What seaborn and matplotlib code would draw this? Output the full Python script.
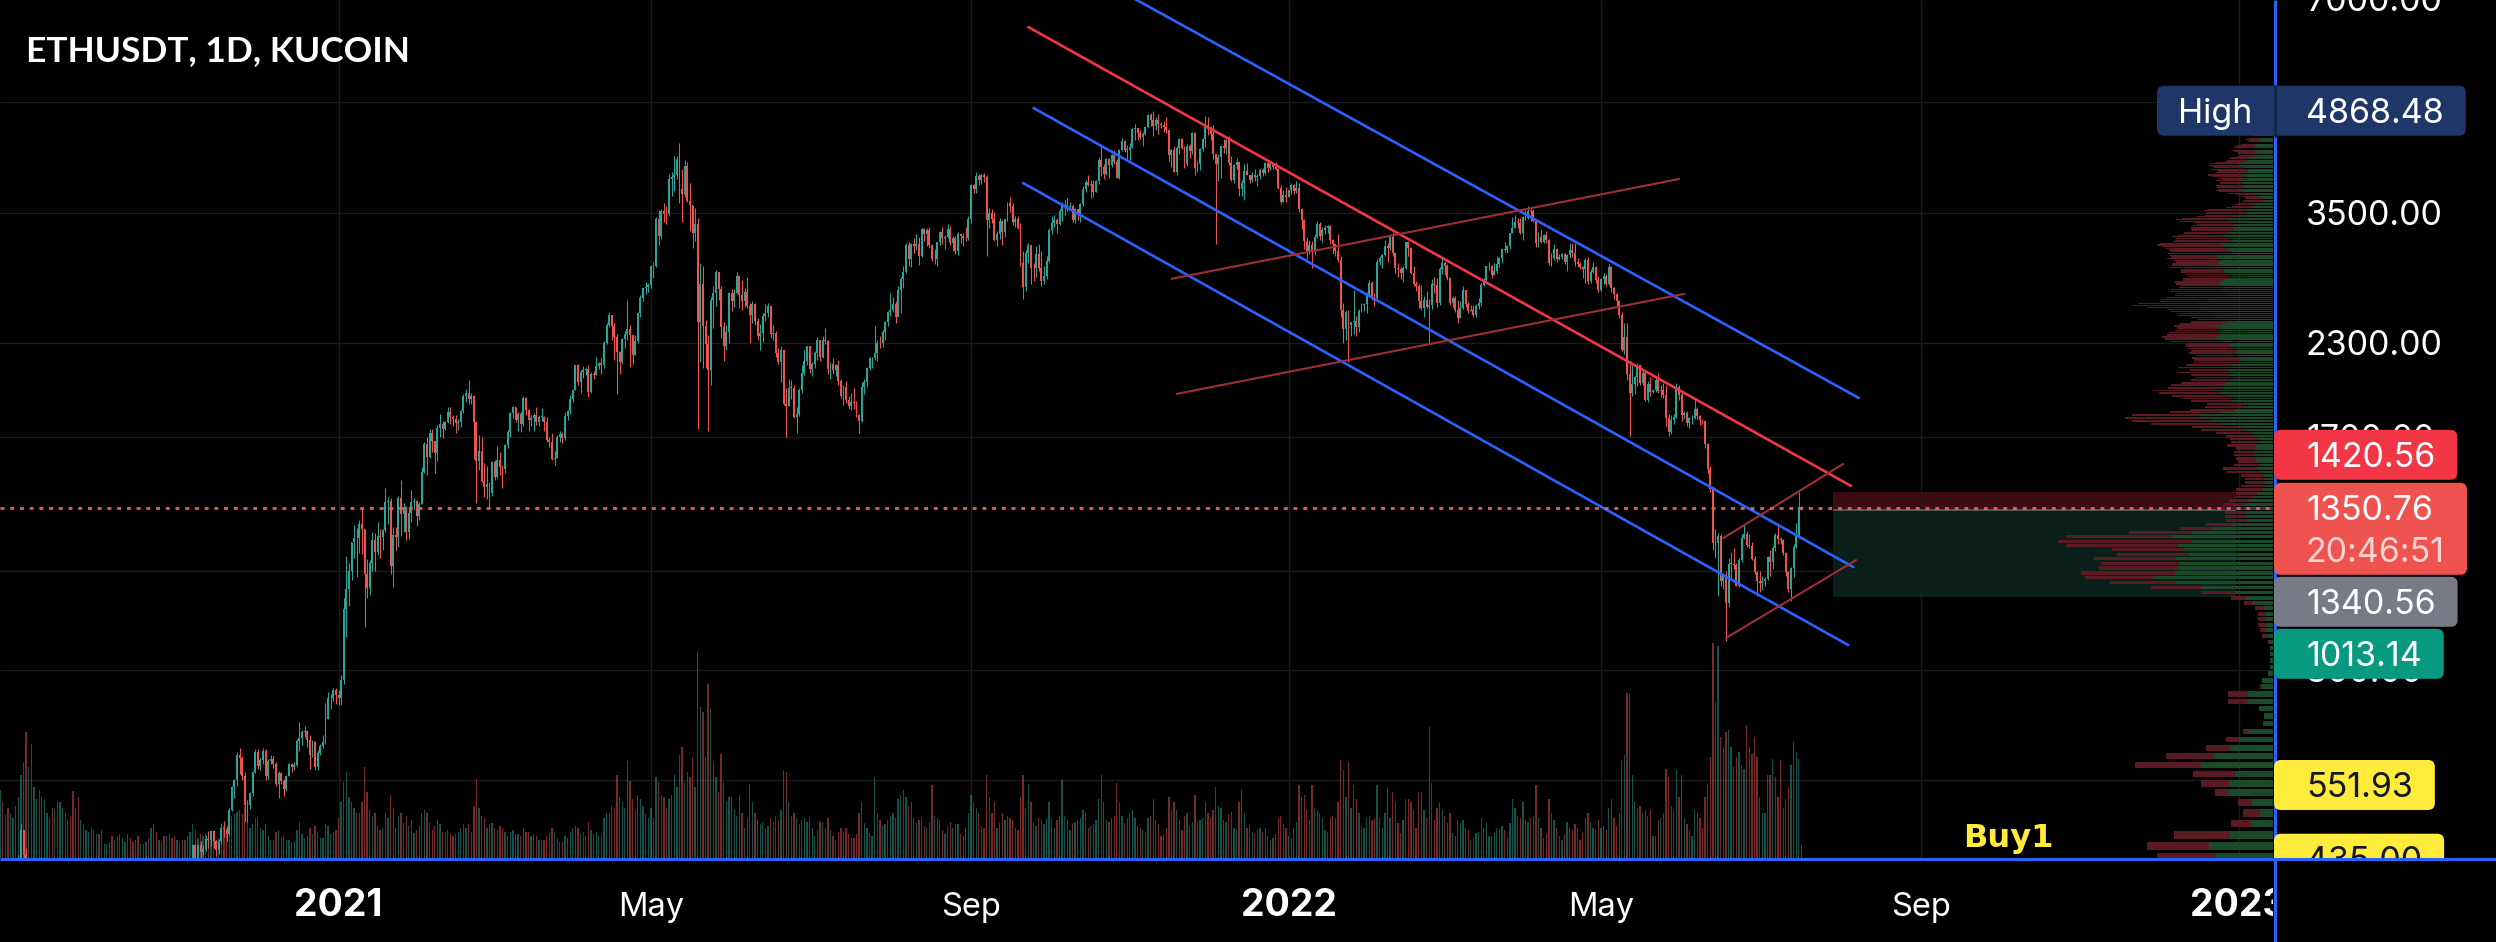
import numpy as np
import pandas as pd
import matplotlib
matplotlib.use("Agg")
import matplotlib.pyplot as plt
import seaborn as sns
from matplotlib.patches import Rectangle, FancyBboxPatch

# ------------------------------------------------------------------ data
first_day = "2020-08-24"
last_day = "2022-07-17"
first_open = 391.0

# daily closes, one inner list per calendar month (Aug 2020 .. Jul 2022)
close = [
    [408, 384, 386, 382, 395, 400, 428, 434],
    [477, 440, 385, 388, 335, 352, 353, 337, 351, 368, 374, 387, 365, 377, 365, 389, 389, 384, 385, 371, 341, 344, 321, 349, 352, 354, 357, 354, 359, 359],
    [353, 346, 346, 352, 353, 340, 341, 351, 365, 370, 375, 387, 381, 379, 377, 366, 368, 377, 379, 368, 392, 414, 409, 412, 406, 393, 404, 388, 386, 383, 386],
    [396, 383, 387, 402, 415, 454, 435, 454, 444, 449, 463, 462, 475, 460, 447, 460, 481, 479, 471, 509, 548, 560, 608, 603, 569, 518, 517, 538, 575, 614],
    [587, 598, 616, 569, 596, 601, 591, 554, 573, 559, 545, 568, 590, 585, 589, 636, 642, 655, 658, 638, 609, 634, 585, 612, 626, 635, 682, 730, 731, 751, 737],
    [730, 774, 975, 1040, 1100, 1208, 1225, 1224, 1281, 1262, 1090, 1043, 1130, 1218, 1171, 1233, 1230, 1257, 1377, 1382, 1121, 1236, 1231, 1392, 1324, 1356, 1248, 1330, 1378, 1379, 1314],
    [1369, 1515, 1660, 1594, 1718, 1677, 1614, 1750, 1769, 1744, 1783, 1843, 1813, 1800, 1779, 1781, 1848, 1937, 1960, 1919, 1935, 1780, 1570, 1625, 1475, 1446, 1459, 1416],
    [1564, 1492, 1575, 1541, 1533, 1654, 1723, 1834, 1869, 1795, 1826, 1772, 1924, 1855, 1791, 1806, 1823, 1782, 1812, 1813, 1783, 1680, 1669, 1581, 1587, 1700, 1716, 1690, 1818, 1846, 1919],
    [1977, 2143, 2028, 2094, 2107, 2112, 1964, 2084, 2076, 2136, 2157, 2139, 2299, 2435, 2519, 2431, 2344, 2237, 2166, 2330, 2364, 2403, 2363, 2213, 2316, 2534, 2662, 2746, 2756, 2772],
    [2945, 2950, 3431, 3253, 3522, 3490, 3484, 3902, 3928, 3952, 4168, 3785, 3715, 4079, 3643, 3586, 3282, 3374, 2460, 2784, 2430, 2295, 2109, 2643, 2706, 2888, 2736, 2419, 2279, 2386, 2707],
    [2634, 2707, 2855, 2688, 2630, 2715, 2590, 2517, 2608, 2472, 2353, 2372, 2508, 2537, 2590, 2365, 2373, 2225, 2160, 2245, 1888, 1874, 1989, 1988, 1813, 1829, 1978, 2085, 2167, 2275],
    [2114, 2150, 2226, 2322, 2198, 2324, 2316, 2117, 2146, 2111, 2140, 2035, 1941, 1996, 1912, 1879, 1899, 1895, 1820, 1787, 1995, 2026, 2124, 2188, 2190, 2230, 2300, 2298, 2383, 2461, 2540],
    [2557, 2610, 2502, 2725, 2827, 2890, 3158, 3013, 3164, 3141, 3164, 3044, 3322, 3265, 3310, 3156, 3014, 3017, 3182, 3286, 3225, 3243, 3320, 3173, 3228, 3097, 3269, 3245, 3227, 3224, 3434],
    [3834, 3787, 3941, 3887, 3952, 3927, 3423, 3497, 3427, 3212, 3270, 3410, 3286, 3427, 3612, 3574, 3398, 3432, 3329, 2977, 2757, 3078, 3155, 2932, 2926, 3062, 2931, 2807, 2853, 3001],
    [3308, 3390, 3418, 3380, 3518, 3580, 3587, 3563, 3576, 3416, 3545, 3492, 3606, 3786, 3865, 3831, 3847, 3748, 3877, 4155, 4057, 3971, 4168, 4085, 4218, 4131, 3924, 4287, 4417, 4289, 4288],
    [4324, 4588, 4606, 4537, 4477, 4518, 4612, 4808, 4731, 4633, 4728, 4667, 4647, 4625, 4574, 4223, 4291, 3994, 4318, 4440, 4319, 4099, 4350, 4274, 4524, 4045, 4099, 4296, 4444, 4632],
    [4587, 4519, 4240, 4101, 4198, 4345, 4310, 4435, 4113, 3895, 4081, 4129, 3777, 3853, 4013, 3960, 3894, 3957, 3925, 3941, 4020, 3983, 4110, 4050, 4099, 4066, 4038, 3798, 3629, 3714, 3683],
    [3769, 3829, 3761, 3794, 3550, 3418, 3193, 3092, 3157, 3083, 3239, 3372, 3250, 3309, 3331, 3352, 3212, 3164, 3096, 3003, 2560, 2406, 2540, 2440, 2459, 2466, 2424, 2548, 2599, 2605, 2688],
    [2791, 2680, 2660, 2990, 3022, 3057, 3142, 3124, 3243, 3072, 2928, 2917, 2883, 2930, 3182, 3125, 2885, 2786, 2763, 2630, 2573, 2639, 2583, 2599, 2780, 2771, 2620, 2920],
    [2973, 2949, 2834, 2616, 2662, 2557, 2495, 2577, 2727, 2607, 2554, 2560, 2517, 2590, 2619, 2772, 2814, 2945, 2950, 2860, 2897, 2971, 3030, 3112, 3107, 3145, 3280, 3332, 3401, 3384, 3282],
    [3449, 3444, 3522, 3521, 3410, 3174, 3234, 3190, 3260, 3210, 2981, 3030, 3118, 3020, 3040, 3062, 2991, 3058, 3104, 3076, 2985, 2965, 2935, 2922, 3008, 2809, 2889, 2936, 2815, 2727],
    [2826, 2857, 2783, 2940, 2748, 2694, 2636, 2518, 2245, 2342, 2080, 1960, 2012, 2058, 2145, 2023, 2090, 1913, 2017, 1962, 1974, 2043, 1972, 1978, 1945, 1803, 1725, 1794, 1812, 1996, 1942],
    [1823, 1834, 1775, 1804, 1806, 1859, 1814, 1792, 1789, 1662, 1530, 1436, 1206, 1207, 1234, 1067, 1087, 993, 1127, 1127, 1124, 1051, 1143, 1225, 1242, 1199, 1193, 1144, 1099, 1067],
    [1059, 1067, 1074, 1151, 1134, 1187, 1238, 1220, 1218, 1169, 1097, 1038, 1111, 1192, 1233, 1355, 1350.76],
]

high = [
    [410, 410, 392, 394, 397, 405, 430, 440],
    [488, 478, 450, 400, 395, 357, 358, 355, 358, 375, 378, 390, 388, 380, 381, 390, 395, 392, 390, 386, 373, 347, 345, 351, 356, 358, 360, 359, 362, 362],
    [361, 355, 350, 354, 356, 355, 345, 353, 367, 373, 377, 393, 390, 383, 382, 378, 370, 378, 382, 381, 395, 419, 418, 418, 414, 410, 407, 406, 391, 390, 395],
    [397, 400, 390, 405, 418, 456, 455, 456, 460, 455, 469, 475, 477, 476, 462, 463, 488, 492, 483, 512, 551, 563, 613, 622, 606, 575, 525, 540, 578, 620],
    [619, 603, 622, 619, 600, 608, 606, 594, 577, 575, 562, 570, 593, 592, 595, 640, 676, 659, 668, 660, 649, 638, 637, 617, 630, 648, 719, 745, 740, 754, 754],
    [749, 787, 1010, 1155, 1131, 1210, 1277, 1265, 1300, 1348, 1258, 1145, 1143, 1250, 1247, 1290, 1261, 1262, 1440, 1398, 1395, 1268, 1270, 1405, 1476, 1371, 1360, 1345, 1429, 1395, 1385],
    [1375, 1540, 1670, 1695, 1742, 1740, 1650, 1765, 1828, 1790, 1790, 1870, 1870, 1825, 1820, 1800, 1855, 1950, 1985, 2040, 1960, 1945, 1775, 1710, 1700, 1560, 1545, 1470],
    [1570, 1575, 1650, 1620, 1550, 1660, 1735, 1840, 1875, 1870, 1840, 1840, 1935, 1930, 1860, 1825, 1835, 1870, 1825, 1865, 1815, 1810, 1700, 1720, 1625, 1710, 1730, 1725, 1840, 1855, 1945],
    [1985, 2145, 2150, 2105, 2135, 2125, 2140, 2095, 2100, 2198, 2160, 2190, 2315, 2450, 2545, 2500, 2450, 2365, 2240, 2340, 2390, 2645, 2440, 2350, 2360, 2540, 2685, 2750, 2800, 2795],
    [2950, 2985, 3450, 3530, 3540, 3610, 3575, 3965, 4000, 4200, 4205, 4380, 4040, 4150, 4120, 3850, 3550, 3560, 3440, 2980, 2950, 2480, 2360, 2670, 2760, 2910, 2890, 2765, 2460, 2440, 2715],
    [2740, 2740, 2890, 2860, 2815, 2745, 2845, 2620, 2630, 2620, 2495, 2445, 2530, 2610, 2620, 2595, 2440, 2390, 2265, 2280, 2250, 1990, 2050, 2040, 2010, 1870, 1990, 2140, 2250, 2280],
    [2280, 2160, 2240, 2345, 2320, 2350, 2410, 2320, 2165, 2190, 2150, 2175, 2045, 2010, 2035, 1935, 1960, 1990, 1910, 1830, 2030, 2045, 2130, 2195, 2195, 2430, 2320, 2350, 2395, 2470, 2550],
    [2700, 2665, 2630, 2760, 2845, 2950, 3180, 3185, 3180, 3225, 3275, 3235, 3330, 3330, 3330, 3340, 3160, 3120, 3185, 3300, 3340, 3255, 3375, 3355, 3250, 3250, 3290, 3280, 3280, 3340, 3465],
    [3840, 3840, 4000, 3975, 3970, 3980, 3950, 3560, 3550, 3515, 3300, 3445, 3420, 3435, 3630, 3680, 3615, 3460, 3460, 3385, 3100, 3110, 3175, 3160, 2980, 3150, 3170, 3100, 2950, 3050],
    [3330, 3460, 3475, 3445, 3550, 3620, 3650, 3675, 3625, 3600, 3560, 3550, 3610, 3820, 3895, 3955, 3890, 3895, 3890, 4190, 4375, 4100, 4185, 4175, 4240, 4295, 4160, 4300, 4460, 4425, 4355],
    [4380, 4605, 4665, 4575, 4575, 4540, 4640, 4825, 4840, 4868.48, 4775, 4810, 4700, 4705, 4775, 4575, 4305, 4340, 4340, 4460, 4460, 4340, 4375, 4370, 4550, 4550, 4135, 4310, 4460, 4780],
    [4775, 4635, 4650, 4240, 4240, 4355, 4440, 4445, 4490, 4200, 4105, 4180, 4130, 3895, 4095, 4115, 3960, 3990, 4035, 3970, 4050, 4050, 4125, 4140, 4130, 4110, 4125, 4045, 3835, 3765, 3810],
    [3775, 3850, 3845, 3880, 3850, 3555, 3430, 3240, 3205, 3195, 3265, 3415, 3395, 3345, 3365, 3370, 3365, 3215, 3175, 3270, 3045, 2620, 2560, 2560, 2465, 2725, 2510, 2565, 2620, 2620, 2715],
    [2815, 2810, 2700, 3020, 3050, 3070, 3210, 3175, 3265, 3290, 3080, 2975, 2940, 2950, 3190, 3195, 3140, 2950, 2810, 2780, 2770, 2680, 2720, 2655, 2825, 2850, 2840, 2935],
    [3030, 3000, 2970, 2845, 2675, 2680, 2640, 2635, 2765, 2725, 2625, 2600, 2600, 2610, 2660, 2790, 2840, 2950, 2985, 2955, 2975, 3045, 3040, 3120, 3190, 3160, 3285, 3450, 3480, 3440, 3445],
    [3460, 3530, 3580, 3550, 3550, 3410, 3290, 3320, 3270, 3305, 3215, 3075, 3170, 3130, 3065, 3075, 3075, 3070, 3175, 3175, 3175, 3025, 2990, 2950, 3030, 3040, 2920, 2990, 2950, 2855],
    [2840, 2880, 2870, 2965, 2950, 2755, 2700, 2640, 2545, 2455, 2450, 2170, 2145, 2070, 2155, 2145, 2105, 2100, 2035, 2060, 1985, 2055, 2085, 2010, 2020, 2010, 1830, 1820, 1830, 2020, 2010],
    [1970, 1845, 1845, 1810, 1825, 1915, 1870, 1820, 1800, 1790, 1665, 1545, 1450, 1260, 1245, 1240, 1095, 1100, 1150, 1170, 1185, 1130, 1150, 1240, 1280, 1255, 1240, 1210, 1155, 1100],
    [1100, 1085, 1080, 1155, 1180, 1195, 1245, 1285, 1230, 1220, 1170, 1100, 1115, 1200, 1285, 1420, 1360],
]

low = [
    [385, 376, 375, 370, 380, 392, 398, 418],
    [430, 425, 380, 365, 310, 327, 338, 330, 334, 350, 362, 368, 360, 362, 360, 362, 378, 380, 380, 368, 334, 334, 315, 318, 340, 349, 352, 350, 352, 352],
    [350, 337, 343, 343, 348, 336, 335, 338, 347, 363, 365, 371, 376, 375, 372, 360, 363, 365, 372, 365, 366, 389, 400, 406, 404, 383, 388, 386, 375, 378, 380],
    [381, 379, 377, 378, 400, 412, 430, 433, 430, 440, 446, 450, 453, 450, 439, 441, 456, 467, 461, 470, 508, 530, 550, 572, 560, 490, 490, 510, 532, 574],
    [582, 580, 590, 560, 562, 590, 583, 550, 530, 553, 532, 542, 568, 575, 580, 586, 616, 627, 645, 624, 581, 604, 579, 580, 608, 622, 629, 682, 705, 725, 716],
    [715, 715, 765, 890, 985, 1070, 1148, 1080, 1168, 1163, 920, 1008, 1018, 1102, 1102, 1160, 1150, 1180, 1250, 1280, 1090, 1045, 1180, 1190, 1235, 1250, 1217, 1220, 1290, 1340, 1275],
    [1300, 1368, 1510, 1504, 1585, 1620, 1512, 1570, 1700, 1690, 1735, 1775, 1770, 1760, 1720, 1735, 1755, 1835, 1900, 1890, 1890, 1580, 1370, 1525, 1470, 1400, 1390, 1350],
    [1405, 1480, 1485, 1500, 1440, 1512, 1640, 1700, 1808, 1780, 1730, 1725, 1758, 1825, 1730, 1760, 1732, 1765, 1760, 1790, 1730, 1670, 1645, 1575, 1550, 1585, 1670, 1665, 1680, 1795, 1830],
    [1900, 1975, 2005, 1960, 2055, 2075, 1930, 1960, 2050, 2075, 2115, 2080, 2120, 2295, 2420, 2325, 2180, 1950, 2080, 2150, 2260, 2320, 2125, 2150, 2230, 2300, 2500, 2630, 2695, 2710],
    [2750, 2840, 2935, 3160, 3220, 3400, 3375, 3460, 3700, 3760, 3910, 3610, 3400, 3685, 3620, 3300, 3130, 3200, 1740, 2170, 2120, 2120, 1730, 2010, 2410, 2595, 2640, 2340, 2170, 2250, 2300],
    [2550, 2580, 2700, 2575, 2560, 2580, 2575, 2300, 2450, 2440, 2320, 2250, 2310, 2470, 2500, 2340, 2320, 2200, 2150, 2030, 1880, 1700, 1880, 1920, 1805, 1720, 1815, 1960, 2075, 2145],
    [2085, 2070, 2120, 2180, 2170, 2190, 2290, 2080, 2050, 2080, 2070, 2010, 1925, 1885, 1895, 1860, 1855, 1860, 1810, 1718, 1780, 1950, 1995, 2110, 2120, 2180, 2170, 2260, 2270, 2320, 2430],
    [2510, 2540, 2450, 2500, 2530, 2750, 2880, 2945, 2935, 3080, 3110, 2960, 3040, 3200, 3150, 3130, 2995, 2965, 2950, 3160, 3170, 3120, 3230, 3160, 3100, 3070, 3060, 3180, 3150, 3200, 3210],
    [3390, 3730, 3730, 3830, 3840, 3870, 3050, 3330, 3390, 3200, 3150, 3220, 3160, 3240, 3410, 3515, 3370, 3350, 3320, 2950, 2650, 2720, 2980, 2780, 2810, 2850, 2900, 2760, 2780, 2830],
    [2990, 3270, 3345, 3285, 3370, 3410, 3480, 3525, 3540, 3400, 3385, 3420, 3400, 3580, 3750, 3815, 3670, 3685, 3740, 3840, 3945, 3900, 3960, 3920, 4060, 4100, 3920, 3905, 4270, 4260, 4150],
    [4150, 4320, 4430, 4430, 4440, 4340, 4505, 4610, 4630, 4480, 4580, 4510, 4600, 4550, 4525, 4140, 4065, 3990, 3960, 4230, 4300, 4050, 4070, 4175, 4240, 3950, 4000, 4025, 4280, 4330],
    [4500, 4430, 4170, 3170, 3880, 3920, 4250, 4230, 4080, 3880, 3850, 4040, 3700, 3700, 3650, 3950, 3850, 3865, 3885, 3815, 3910, 3940, 3960, 4000, 4025, 4030, 4015, 3780, 3605, 3620, 3625],
    [3680, 3720, 3720, 3735, 3510, 3320, 3120, 3020, 3070, 2930, 3060, 3230, 3210, 3190, 3275, 3280, 3170, 3070, 3050, 2990, 2500, 2300, 2325, 2160, 2350, 2370, 2350, 2380, 2540, 2550, 2530],
    [2680, 2640, 2590, 2640, 2960, 2930, 3045, 2990, 3110, 3050, 2880, 2850, 2830, 2800, 2925, 3050, 2870, 2760, 2720, 2575, 2560, 2500, 2575, 2300, 2570, 2700, 2580, 2600],
    [2870, 2860, 2820, 2600, 2585, 2545, 2450, 2490, 2570, 2580, 2535, 2550, 2505, 2505, 2570, 2595, 2760, 2780, 2915, 2840, 2860, 2885, 2940, 2980, 3090, 3075, 3120, 3300, 3330, 3330, 3270],
    [3210, 3420, 3430, 3405, 3395, 3140, 3135, 3180, 3180, 3180, 2955, 2950, 3010, 2985, 3010, 3020, 2970, 2905, 3025, 3040, 2950, 2940, 2925, 2835, 2790, 2780, 2790, 2880, 2790, 2715],
    [2720, 2780, 2760, 2770, 2710, 2650, 2595, 2490, 2240, 2220, 2040, 1705, 1940, 1950, 2000, 2010, 2010, 1905, 1900, 1940, 1955, 1965, 1955, 1930, 1925, 1760, 1705, 1715, 1770, 1805, 1915],
    [1785, 1800, 1760, 1750, 1770, 1800, 1800, 1765, 1770, 1640, 1510, 1420, 1180, 1150, 1017, 1050, 1040, 880, 980, 1070, 1110, 1050, 1045, 1135, 1220, 1190, 1185, 1140, 1090, 1015],
    [1030, 1035, 1050, 1070, 1085, 1110, 1175, 1200, 1200, 1160, 1085, 1030, 1000, 1080, 1185, 1225, 1340],
]

# daily volume (thousand ETH, KuCoin)
volume = [
    [67, 55, 43, 50, 45, 40, 52, 60],
    [82, 95, 125, 90, 113, 70, 58, 67, 60, 58, 45, 40, 50, 48, 55, 55, 50, 45, 38, 42, 66, 50, 60, 38, 34, 28, 26, 30, 28, 24],
    [24, 28, 14, 14, 16, 22, 18, 22, 24, 20, 16, 24, 20, 16, 18, 22, 14, 14, 16, 20, 30, 34, 26, 18, 16, 22, 22, 24, 20, 22, 18],
    [16, 18, 18, 22, 26, 34, 28, 20, 24, 22, 24, 26, 22, 20, 18, 20, 30, 32, 26, 34, 42, 44, 46, 48, 44, 52, 36, 30, 34, 40],
    [40, 30, 28, 34, 22, 18, 18, 26, 28, 20, 22, 18, 18, 16, 16, 28, 36, 24, 20, 22, 30, 24, 32, 26, 20, 20, 34, 32, 24, 26, 28],
    [40, 55, 75, 85, 60, 55, 50, 45, 45, 55, 90, 65, 48, 42, 45, 32, 28, 30, 45, 40, 62, 50, 30, 42, 45, 35, 42, 32, 38, 25, 28],
    [32, 45, 48, 45, 35, 28, 32, 38, 34, 26, 26, 28, 24, 22, 24, 26, 30, 34, 30, 34, 26, 52, 78, 50, 42, 40, 30, 34],
    [35, 30, 28, 32, 30, 26, 22, 26, 28, 24, 24, 22, 30, 26, 26, 22, 24, 22, 18, 18, 18, 22, 26, 30, 26, 20, 16, 16, 22, 20, 26],
    [30, 32, 30, 24, 26, 22, 36, 28, 24, 26, 22, 24, 40, 45, 45, 52, 50, 82, 60, 55, 50, 96, 76, 58, 48, 62, 58, 52, 44, 40],
    [50, 40, 80, 75, 62, 60, 50, 58, 62, 82, 70, 102, 110, 75, 85, 80, 100, 70, 205, 150, 145, 100, 172, 148, 95, 80, 65, 103, 75, 55, 60],
    [60, 48, 42, 62, 45, 30, 40, 73, 55, 45, 38, 34, 36, 30, 32, 40, 36, 42, 38, 48, 87, 85, 55, 42, 45, 40, 34, 38, 40, 36],
    [40, 30, 22, 28, 36, 36, 30, 40, 28, 22, 18, 26, 30, 26, 30, 24, 20, 20, 24, 45, 55, 35, 30, 25, 22, 80, 45, 38, 32, 34, 38],
    [42, 45, 40, 58, 62, 67, 60, 52, 55, 40, 35, 38, 40, 32, 30, 36, 72, 42, 40, 38, 28, 24, 32, 36, 30, 34, 34, 24, 22, 30, 45],
    [62, 55, 50, 45, 32, 30, 82, 60, 45, 55, 30, 35, 45, 38, 42, 40, 38, 30, 28, 60, 82, 50, 73, 55, 35, 32, 40, 38, 34, 40],
    [55, 40, 30, 38, 42, 77, 42, 38, 28, 35, 36, 38, 40, 48, 45, 30, 32, 34, 38, 58, 82, 55, 38, 36, 40, 42, 74, 55, 42, 35, 40],
    [45, 48, 40, 32, 30, 28, 26, 40, 42, 58, 38, 34, 22, 24, 30, 60, 48, 55, 48, 38, 28, 42, 45, 32, 36, 62, 36, 38, 40, 55],
    [45, 40, 48, 70, 52, 50, 38, 36, 44, 46, 30, 28, 55, 67, 45, 30, 32, 26, 24, 28, 30, 26, 30, 22, 18, 20, 24, 40, 42, 34, 30],
    [22, 20, 30, 36, 72, 60, 62, 48, 38, 72, 50, 48, 45, 40, 28, 26, 40, 42, 40, 55, 97, 87, 60, 95, 50, 72, 58, 45, 32, 30, 40],
    [42, 38, 40, 72, 40, 30, 45, 70, 40, 65, 55, 35, 25, 38, 58, 58, 55, 48, 30, 65, 65, 48, 40, 130, 74, 38, 50, 55],
    [48, 42, 35, 45, 25, 22, 38, 35, 38, 30, 28, 18, 20, 25, 26, 40, 30, 35, 22, 22, 25, 30, 28, 32, 28, 20, 35, 58, 50, 42, 40],
    [55, 38, 36, 40, 42, 72, 40, 30, 20, 24, 58, 45, 38, 30, 22, 18, 24, 36, 30, 28, 34, 30, 18, 25, 40, 45, 36, 30, 28, 38],
    [30, 32, 28, 50, 58, 40, 32, 45, 97, 102, 163, 162, 82, 55, 50, 52, 45, 48, 42, 48, 22, 22, 38, 40, 45, 88, 80, 52, 48, 87, 60],
    [82, 40, 34, 28, 22, 48, 45, 40, 30, 60, 72, 100, 213, 155, 210, 120, 110, 125, 127, 110, 90, 100, 105, 92, 88, 132, 110, 103, 120, 100],
    [60, 45, 45, 82, 82, 98, 80, 60, 97, 50, 58, 70, 92, 115, 105, 98, 13],
]

# axis ticks
tick_dates = ["2021-01-01", "2021-05-01", "2021-09-01", "2022-01-01", "2022-05-01", "2022-09-01", "2023-01-01"]
tick_labels = ["2021", "May", "Sep", "2022", "May", "Sep", "2023"]
tick_is_year = [True, False, False, True, False, False, True]
grid_prices = [7000, 5000, 3500, 2300, 1700, 1100, 800, 560]
shown_price_labels = [7000, 3500, 2300, 1700, 800]

# drawings (date, price) anchors
blue_lines = [
    ("2021-10-20", 7450, "2022-08-08", 1926),
    ("2021-09-25", 4912, "2022-08-06", 1115),
    ("2021-09-21", 3855, "2022-08-04", 867),
]
red_lines = [("2021-09-23", 6379, "2022-08-05", 1450)]
darkred_lines = [
    ("2021-11-17", 2829, "2022-05-31", 3905),
    ("2021-11-19", 1951, "2022-06-02", 2695),
    ("2022-06-18", 887, "2022-08-07", 1141),
    ("2022-06-17", 1225, "2022-08-02", 1556),
]
pos_start, pos_end = "2022-07-29", "2022-12-31"
pos_entry, pos_stop, pos_target = 1340.56, 1420.56, 1013.14
buy_levels = [551.93, 435.00]
buy_text, buy_date, buy_price = "Buy1", "2022-09-17", 452
countdown = "20:46:51"
title = "ETHUSDT, 1D, KUCOIN"

# ------------------------------------------------------------------ checks
expected = pd.date_range(first_day, last_day).to_period("M").value_counts().sort_index().tolist()
problems = []
for name, arr in [("close", close), ("high", high), ("low", low), ("volume", volume)]:
    if len(arr) != len(expected):
        problems.append(f"{name}: {len(arr)} months vs {len(expected)}")
        continue
    for i, (m, e) in enumerate(zip(arr, expected)):
        if len(m) != e:
            problems.append(f"{name} month {i}: {len(m)} vs {e}")
if problems:
    raise ValueError("; ".join(problems))

c = np.array(sum(close, []), float)
h = np.array(sum(high, []), float)
l = np.array(sum(low, []), float)
v = np.array(sum(volume, []), float)
o = np.r_[first_open, c[:-1]]
h = np.maximum(h, np.maximum(o, c))
l = np.minimum(l, np.minimum(o, c))
DAY0 = pd.Timestamp("2021-01-01")
dates = pd.date_range(first_day, periods=len(c))
days = np.asarray((dates - DAY0).days, float)
up = c >= o


def dn(s):
    return float((pd.Timestamp(s) - DAY0).days)


# ------------------------------------------------------------------ layout
W, H = 2496, 942
PR, PB = 2273, 858          # plot right / bottom (px)
X0 = -338.5 / 2.603
X1 = X0 + PR / 2.603
Y0, Y1 = 436.0, 6961.0
UPC, DNC = "#26a69a", "#ef5350"

sns.set_theme(style="dark", rc={"figure.facecolor": "black", "axes.facecolor": "black"})
plt.rcParams["font.family"] = ["Inter", "DejaVu Sans"]

fig = plt.figure(figsize=(W / 100, H / 100), dpi=100)
fig.patch.set_facecolor("black")
rect = [0, (H - PB) / H, PR / W, PB / H]


def make_axes(z, logy=True):
    a = fig.add_axes(rect, zorder=z)
    a.set_facecolor("none")
    if logy:
        a.set_yscale("log")
    a.axis("off")
    return a


axg = make_axes(0)
axv = make_axes(1, logy=False)
axp = make_axes(2)
ax = make_axes(3)

# grid + position zones
for p in grid_prices:
    axg.axhline(p, color="#1b1b1b", lw=1.0)
for t in tick_dates:
    axg.axvline(dn(t), color="#1b1b1b", lw=1.0)
ds, de = dn(pos_start), dn(pos_end)
axg.add_patch(Rectangle((ds, pos_entry), de - ds, pos_stop - pos_entry, facecolor="#3b0d13", edgecolor="none"))
axg.add_patch(Rectangle((ds, pos_target), de - ds, pos_entry - pos_target, facecolor="#0a1e1a", edgecolor="none"))
axg.hlines(pos_entry, ds, de, color="#5d606b", lw=1.2)

# volume
axv.bar(days[up], v[up], width=0.5, color=UPC, alpha=0.5, linewidth=0)
axv.bar(days[~up], v[~up], width=0.5, color=DNC, alpha=0.5, linewidth=0)

# visible range volume profile
n_rows = 270
edges = np.linspace(l.min(), h.max(), n_rows + 1)
e0, e1 = edges[:-1], edges[1:]
ovl = np.clip(np.minimum(h[:, None], e1[None, :]) - np.maximum(l[:, None], e0[None, :]), 0, None)
share = ovl / np.maximum(h - l, 1e-9)[:, None] * v[:, None]
vp_up = share[up].sum(0)
vp_dn = share[~up].sum(0)
cent = (e0 + e1) / 2
tot = vp_up + vp_dn
ref_rows = (cent > 900) & (cent < 1500)
k = 215.0 / tot[ref_rows].max()
w_up = np.minimum(vp_up * k, PR)
w_dn = np.minimum(vp_dn * k, PR - w_up)
hh = (e1 - e0) * 0.72
axp.barh(cent, -w_up, left=PR, height=hh, color="#1a4a27", linewidth=0)
axp.barh(cent, -w_dn, left=PR - w_up, height=hh, color="#5a1a22", linewidth=0)

# candles
col = np.where(up, UPC, DNC)
ax.vlines(days, l, h, colors=col, linewidth=0.75)
body_lo = np.minimum(o, c)
body_h = np.maximum(np.abs(c - o), c * 0.002)
ax.bar(days, body_h, bottom=body_lo, width=0.74, color=col, linewidth=0)

# drawings
for a, pa, b, pb in blue_lines:
    sns.lineplot(x=[dn(a), dn(b)], y=[pa, pb], ax=ax, color="#2962ff", linewidth=1.9, legend=False)
for a, pa, b, pb in red_lines:
    sns.lineplot(x=[dn(a), dn(b)], y=[pa, pb], ax=ax, color="#f23645", linewidth=1.9, legend=False)
for a, pa, b, pb in darkred_lines:
    sns.lineplot(x=[dn(a), dn(b)], y=[pa, pb], ax=ax, color="#a02e38", linewidth=1.5, legend=False)
last = c[-1]
ax.axhline(last, color="#f05a5a", lw=2.0, linestyle=(0, (1.4, 2.1)))

for a in (axg, axp, ax):
    a.set_yscale("log")
    a.set_ylim(Y0, Y1)
for a in (axg, axv, ax):
    a.set_xlim(X0, X1)
axp.set_xlim(0, PR)
axv.set_ylim(0, v.max() * PB / 215.0)
for a in (axg, axv, axp, ax):
    a.axis("off")

ax.text(dn(buy_date), buy_price, buy_text, color="#ffeb3b", fontsize=23, fontweight="bold",
        family=["DejaVu Sans"], ha="left", va="baseline", zorder=10)

# ------------------------------------------------------------------ overlay (px coords)
ov = fig.add_axes([0, 0, 1, 1], zorder=4)
ov.set_xlim(0, W)
ov.set_ylim(H, 0)
ov.axis("off")
ov.patch.set_alpha(0)
renderer = fig.canvas.get_renderer()


def px(d, p):
    X, Y = ax.transData.transform((d, p))
    return X, H - Y


FS = 24.5
CAP = 0.727 * FS * 100 / 72
LX = 2306
BH = 50

ov.text(26, 61.5, title, color="white", fontsize=25.5, fontweight="bold", family=["Lato", "DejaVu Sans"],
        ha="left", va="baseline")

# blue frame lines
ov.plot([PR + 1.5, PR + 1.5], [0, PB], color="#2962ff", lw=2.2, zorder=3, solid_capstyle="butt")
ov.plot([PR + 1.5, PR + 1.5], [PB, H], color="#2962ff", lw=2.2, zorder=9, solid_capstyle="butt")
ov.plot([0, W], [PB + 0.5, PB + 0.5], color="#2962ff", lw=2.2, zorder=9, solid_capstyle="butt")

# price scale labels (those not hidden behind value boxes)
for p in shown_price_labels:
    _, y = px(0, p)
    ov.text(LX, y + CAP / 2, f"{p:.2f}", color="white", fontsize=FS, ha="left", va="baseline", zorder=2)

# date labels
for t, lab, yr in zip(tick_dates, tick_labels, tick_is_year):
    x, _ = px(dn(t), Y0)
    ov.text(x, 916, lab, color="white", fontsize=27 if yr else 23.5, fontweight="bold" if yr else "normal",
            ha="center", va="baseline", zorder=2)
ov.add_patch(Rectangle((PR, PB + 1), W - PR, H - PB, facecolor="black", edgecolor="none", zorder=8))


def label_box(yc, text, fc, tc, left=PR + 1, extra_lines=()):
    t = ov.text(LX, yc + CAP / 2, text, color=tc, fontsize=FS, ha="left", va="baseline", zorder=6)
    wdt = t.get_window_extent(renderer=renderer).width
    bottom = yc + BH / 2
    for i, (txt, tcol) in enumerate(extra_lines):
        yy = yc + 42 * (i + 1)
        t2 = ov.text(LX, yy + CAP / 2, txt, color=tcol, fontsize=FS, ha="left", va="baseline", zorder=6)
        wdt = max(wdt, t2.get_window_extent(renderer=renderer).width)
        bottom = yy + BH / 2
    right = LX + wdt + 22
    ov.add_patch(FancyBboxPatch((left, yc - BH / 2), right - left, bottom - (yc - BH / 2),
                                boxstyle="round,pad=0,rounding_size=7", facecolor=fc, edgecolor="none", zorder=5))


# High label
hi_val = h.max()
_, yh = px(0, hi_val)
label_box(yh, f"{hi_val:.2f}", "#1e3768", "white", left=2157)
ov.text(2215, yh + CAP / 2, "High", color="white", fontsize=FS, ha="center", va="baseline", zorder=6)
ov.plot([PR + 1.5, PR + 1.5], [yh - BH / 2, yh + BH / 2], color="#10234a", lw=2.0, zorder=6)

# current price + stacked position labels
_, ycur = px(0, last)
label_box(ycur, f"{last:.2f}", "#ef5350", "white", extra_lines=[(countdown, "#fdd5d2")])
cur_top, cur_bot = ycur - BH / 2, ycur + 42 + BH / 2
above = [(pos_stop, "#f23645")]
below = [(pos_entry, "#787b86"), (pos_target, "#089981")]
edge = cur_top
for p, fc in sorted(above, key=lambda q: q[0]):
    y = min(px(0, p)[1], edge - 3 - BH / 2)
    label_box(y, f"{p:.2f}", fc, "white")
    edge = y - BH / 2
edge = cur_bot
for p, fc in sorted(below, key=lambda q: -q[0]):
    y = max(px(0, p)[1], edge + 2 + BH / 2)
    label_box(y, f"{p:.2f}", fc, "white")
    edge = y + BH / 2
for p in buy_levels:
    label_box(px(0, p)[1], f"{p:.2f}", "#ffeb3b", "#131722")

fig.savefig("out.png", dpi=100, facecolor="black")
